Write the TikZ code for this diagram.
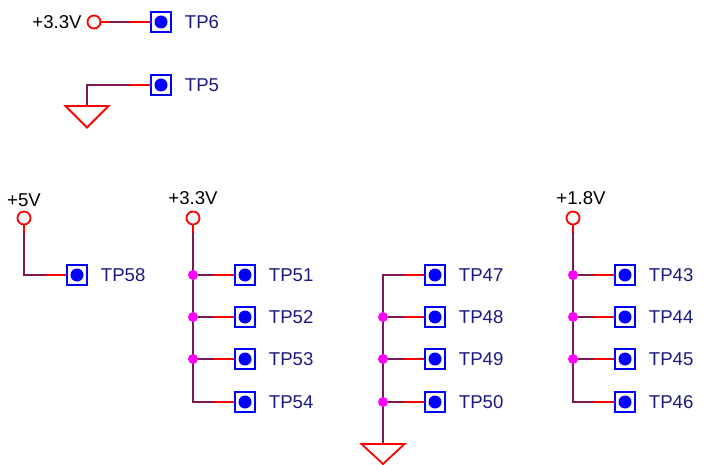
\documentclass[tikz,border=0pt]{standalone}
\usepackage{fontspec}
\setmainfont{Liberation Sans}
\usetikzlibrary{backgrounds,positioning}
\definecolor{wirecol}{HTML}{7A1A55}
\definecolor{tpcol}{HTML}{1A1A80}
\definecolor{dotcol}{HTML}{FF00FF}
\tikzset{
  pinline/.style={draw=red,line width=1.8pt},
  tp/.style={rectangle,draw=blue,line width=2pt,inner sep=0pt,minimum size=20.5pt,
    path picture={\fill[blue] (path picture bounding box.center) circle (6.5pt);},
    label={[font=\fontsize{18.6}{20}\selectfont,text=tpcol,inner sep=0pt,label distance=12.5pt]right:#1},
    append after command={(\tikzlastnode.west) edge[pinline] ++(-20pt,0pt)}},
  power/.style={circle,draw=red,line width=1.8pt,inner sep=0pt,minimum size=13pt},
  railname/.style={font=\fontsize{18.6}{20}\selectfont,inner sep=0pt},
  junction/.style={circle,fill=dotcol,inner sep=0pt,minimum size=10pt},
  wire/.style={draw=wirecol,line width=2pt},
  gndline/.style={draw=red,line width=1.8pt,line join=miter}
}
\begin{document}
\begin{tikzpicture}[x=1pt,y=-1pt]
\useasboundingbox (0,0) rectangle (719,465);
% single test points at the top
\node (v_top) at (94,22) [power] {};
\node (v_top_name) at (57,22) [railname] {+3.3V};
\node (tp_6) at (161,22) [tp=TP6] {};
\node (tp_5) at (161,85) [tp=TP5] {};
\coordinate (gnd_1) at (87,106);
% power rails
\node (v_5) at (24,218) [power] {};
\node (v_5_name) at (24,200) [railname] {+5V};
\node (v_33) at (193,218) [power] {};
\node (v_33_name) at (193,198) [railname] {+3.3V};
\node (v_18) at (573,218) [power] {};
\node (v_18_name) at (581,198) [railname] {+1.8V};
\node (tp_58) at (77,275) [tp=TP58] {};
% 3.3V group
\node (tp_51) at (245,275) [tp=TP51] {};
\node (tp_52) at (245,317) [tp=TP52] {};
\node (tp_53) at (245,359) [tp=TP53] {};
\node (tp_54) at (245,402) [tp=TP54] {};
\node (j_51) at (193,275) [junction] {};
\node (j_52) at (193,317) [junction] {};
\node (j_53) at (193,359) [junction] {};
% ground group
\node (tp_47) at (435,275) [tp=TP47] {};
\node (tp_48) at (435,317) [tp=TP48] {};
\node (tp_49) at (435,359) [tp=TP49] {};
\node (tp_50) at (435,402) [tp=TP50] {};
\node (j_48) at (383,317) [junction] {};
\node (j_49) at (383,359) [junction] {};
\node (j_50) at (383,402) [junction] {};
\coordinate (gnd_2) at (383,444);
% 1.8V group
\node (tp_43) at (625,275) [tp=TP43] {};
\node (tp_44) at (625,317) [tp=TP44] {};
\node (tp_45) at (625,359) [tp=TP45] {};
\node (tp_46) at (625,402) [tp=TP46] {};
\node (j_43) at (573,275) [junction] {};
\node (j_44) at (573,317) [junction] {};
\node (j_45) at (573,359) [junction] {};
\draw [gndline] (gnd_1) +(-21.5,0) -- +(21.5,0) -- +(0,21.5) -- cycle;
\draw [gndline] (gnd_2) +(-21.5,0) -- +(21.5,0) -- +(0,20) -- cycle;
\begin{scope}[on background layer]
\draw [wire] (v_top)--(tp_6);
\draw [wire] (gnd_1) |- (tp_5);
\draw [wire] (v_5) |- (tp_58);
\draw [wire] (v_33) |- (tp_54);
\draw [wire] (j_51)--(tp_51);
\draw [wire] (j_52)--(tp_52);
\draw [wire] (j_53)--(tp_53);
\draw [wire] (gnd_2) |- (tp_47);
\draw [wire] (j_48)--(tp_48);
\draw [wire] (j_49)--(tp_49);
\draw [wire] (j_50)--(tp_50);
\draw [wire] (v_18) |- (tp_46);
\draw [wire] (j_43)--(tp_43);
\draw [wire] (j_44)--(tp_44);
\draw [wire] (j_45)--(tp_45);
\end{scope}
% red stubs on the power symbols
\draw [pinline] (v_top.east)--++(8,0);
\draw [pinline] (v_5.south)--++(0,8);
\draw [pinline] (v_33.south)--++(0,8);
\draw [pinline] (v_18.south)--++(0,8);
\end{tikzpicture}
\end{document}
